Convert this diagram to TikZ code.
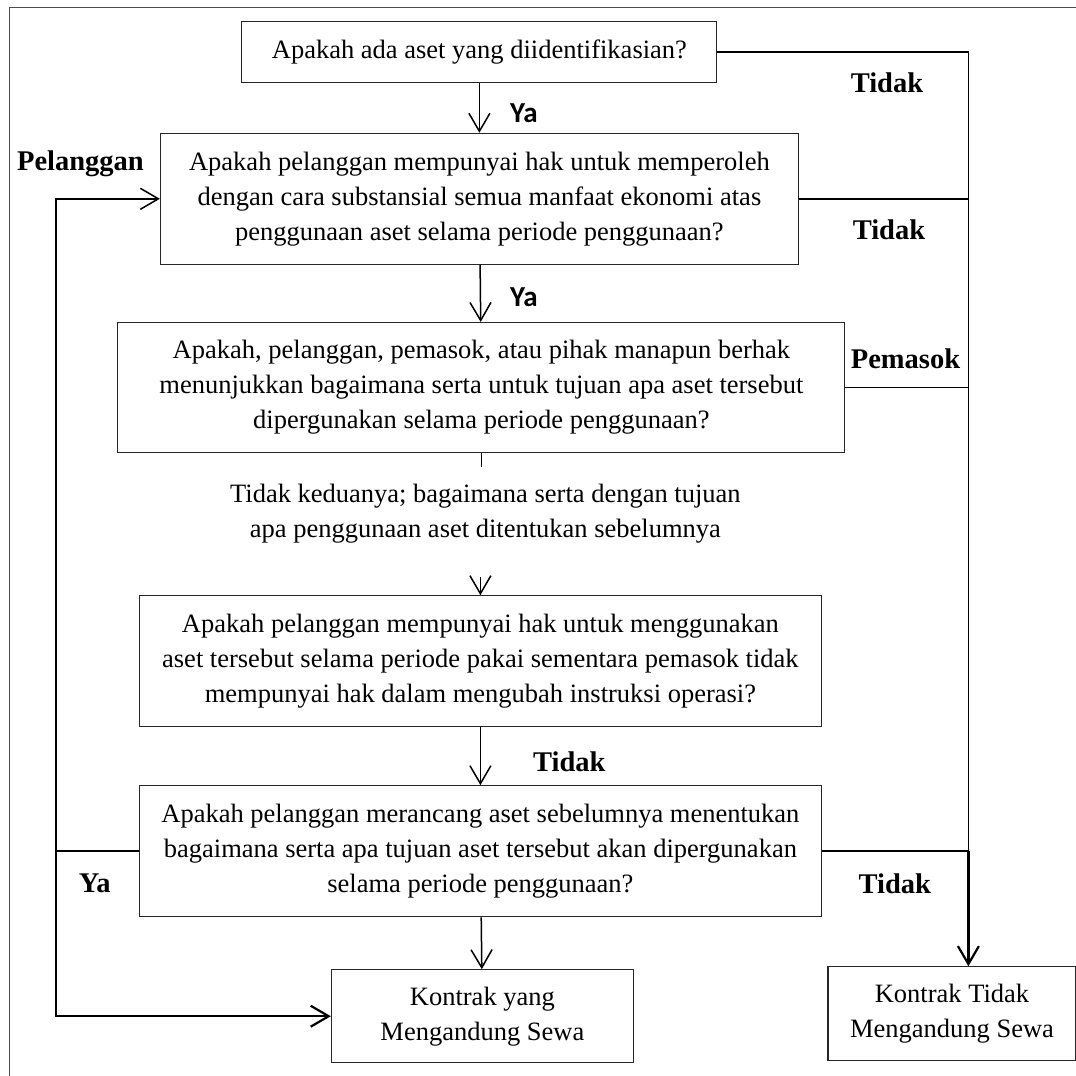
\documentclass[tikz,border=0pt]{standalone}
\usepackage{fontspec}
\setmainfont{Liberation Serif}
\newfontfamily\yafont{Carlito}
\usepackage{tikz}
\usetikzlibrary{arrows.meta, positioning}

\tikzset{
  box/.style={draw=black!85, line width=1.1pt, align=center, inner sep=0pt,
    font=\fontsize{26.5}{35}\selectfont},
  lbl/.style={font=\fontsize{28.5}{34}\selectfont\bfseries, inner sep=0pt},
  ya/.style={font=\yafont\fontsize{29}{32}\selectfont\bfseries, inner sep=0pt},
  conn/.style={line width=1.5pt},
}

\begin{document}
\begin{tikzpicture}[x=1pt, y=-1pt, on grid, >={Straight Barb[length=18pt,width=21pt]}]
        \useasboundingbox (0,0) rectangle (1076,1076);
        \draw[black!70, line width=1pt] (9.3,1076) -- (9.3,7.5) -- (1076,7.5);

        \node[box, minimum width=475pt, minimum height=61pt]   (q_1)  at (479.4,52)                       {Apakah ada aset yang diidentifikasian?};
        \node[box, minimum width=638pt, minimum height=131pt]  (q_2)  [below=146.8pt of q_1]              {Apakah pelanggan mempunyai hak untuk memperoleh\\dengan cara substansial semua manfaat ekonomi atas\\penggunaan aset selama periode penggunaan?};
        \node[box, minimum width=727pt, minimum height=130pt]  (q_3)  [below=188.7pt of q_2, xshift=2pt] {Apakah, pelanggan, pemasok, atau pihak manapun berhak\\menunjukkan bagaimana serta untuk tujuan apa aset tersebut\\dipergunakan selama periode penggunaan?};
        \node[align=center, font=\fontsize{26.5}{35}\selectfont] (t_1) [below=126.5pt of q_3, xshift=4pt] {Tidak keduanya; bagaimana serta dengan tujuan\\apa penggunaan aset ditentukan sebelumnya};
        \node[box, minimum width=682pt, minimum height=131pt]  (q_4)  [below=147.2pt of t_1, xshift=-5pt] {Apakah pelanggan mempunyai hak untuk menggunakan\\aset tersebut selama periode pakai sementara pemasok tidak\\mempunyai hak dalam mengubah instruksi operasi?};
        \node[box, minimum width=682pt, minimum height=131pt]  (q_5)  [below=190pt of q_4]                {Apakah pelanggan merancang aset sebelumnya menentukan\\bagaimana serta apa tujuan aset tersebut akan dipergunakan\\selama periode penggunaan?};
        \node[box, minimum width=302pt, minimum height=93pt]   (q_6)  [below=165pt of q_5, xshift=2pt]  {Kontrak yang\\Mengandung Sewa};
        \node[box, minimum width=248pt, minimum height=94pt]   (q_7)  [right=469.6pt of q_6, yshift=2.4pt] {Kontrak Tidak\\Mengandung Sewa};

        \coordinate (r_l) at (56,0);
        \coordinate (r_r) at (968.4,0);

        \path[->, conn] (q_1) edge node[ya, right=30pt, pos=0.6] {Ya} (q_2)
        (q_2) edge node[ya, right=29pt, pos=0.56] {Ya} (q_3)
        (q_4) edge node[lbl, right=52pt, pos=0.59] {Tidak} (q_5)
        (q_5) edge (q_6);

        \draw[conn] (q_3.south) -- ++(0,14.3);
        \draw[->, conn] (q_4.north) ++(0,-18) -- (q_4.north);

        % kiri
        \draw[->, conn] (q_5.west) -- (q_5.west -| r_l) |- (q_2.west);
        \draw[->, line width=2.2pt] (q_5.west -| r_l) |- (q_6.west);

        % kanan
        \draw[conn] (q_1.east) -| (q_5.east -| r_r);
        \draw[conn] (q_2.east) -- (q_2.east -| r_r);
        \draw[conn] (q_3.east) -- (q_3.east -| r_r);
        \draw[conn] (q_5.east) -- (q_5.east -| r_r);
        \draw[->, line width=2.2pt] (q_5.east -| r_r) -- (q_7.north -| r_r);

        \node[lbl] (l_1) at (887,82.7)    {Tidak};
        \node[lbl] (l_2) at (889,230)     {Tidak};
        \node[lbl] (l_3) at (905.5,358.3) {Pemasok};
        \node[lbl] (l_4) at (80.5,163.3)  {Pelanggan};
        \node[lbl] (l_5) at (94.7,883.3)  {Ya};
        \node[lbl] (l_6) at (894.8,883.3) {Tidak};
\end{tikzpicture}
\end{document}
